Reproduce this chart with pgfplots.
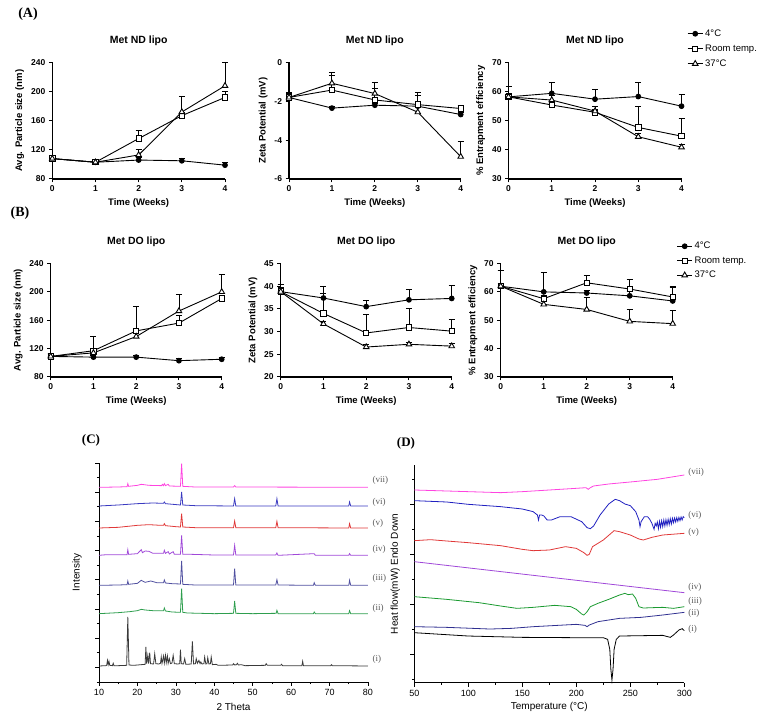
\documentclass[border=0pt]{standalone}
\usepackage{pgfplots}
\pgfplotsset{compat=1.18}
\usepackage{fontspec}
\setmainfont{Liberation Sans}
\newfontfamily\serif{Liberation Serif}
\definecolor{cI}{HTML}{3A3A3A}
\definecolor{cII}{HTML}{2E9E4E}
\definecolor{cIII}{HTML}{5050A0}
\definecolor{cIV}{HTML}{A048D8}
\definecolor{cV}{HTML}{E03838}
\definecolor{cVI}{HTML}{3A3AC0}
\definecolor{cVII}{HTML}{FF44E0}
\definecolor{dII}{HTML}{303090}
\definecolor{dIII}{HTML}{1A9A30}
\definecolor{dVI}{HTML}{2020C0}
\tikzset{lbl/.style={font=\serif\fontsize{9bp}{10bp}\selectfont, text=black!65, anchor=west}}
\pgfplotsset{
  gp/.style={scale only axis, axis lines*=left,
    axis line style={line width=1.1bp, -},
    tick align=outside, tick style={line width=1bp, black}, major tick length=3.5bp,
    xmin=0, xmax=4, xtick={0,1,2,3,4}, clip=false,
    /pgf/number format/assume math mode=true,
    ticklabel style={font=\fontsize{8.5bp}{10bp}\selectfont\bfseries},
    label style={font=\fontsize{9.5bp}{11bp}\selectfont\bfseries},
    title style={font=\fontsize{10.5bp}{12bp}\selectfont\bfseries, yshift=7bp},
    xlabel={Time (Weeks)},
    legend image code/.code={\draw[mark repeat=2,mark phase=2] plot coordinates {(0bp,0bp) (7.5bp,0bp) (15bp,0bp)};}},
  c4/.style={black, line width=0.9bp, mark=*, mark size=2.4bp, mark options={solid, fill=black},
    /pgfplots/error bars/y dir=plus, /pgfplots/error bars/y explicit,
    /pgfplots/error bars/error bar style={line width=0.9bp, black},
    /pgfplots/error bars/error mark options={line width=0.9bp, black, mark size=3bp, rotate=90}},
  rt/.style={black, line width=0.9bp, mark=square*, mark size=2.7bp, mark options={solid, fill=white},
    /pgfplots/error bars/y dir=plus, /pgfplots/error bars/y explicit,
    /pgfplots/error bars/error bar style={line width=0.9bp, black},
    /pgfplots/error bars/error mark options={line width=0.9bp, black, mark size=3bp, rotate=90}},
  t37/.style={black, line width=0.9bp, mark=triangle*, mark size=3.2bp, mark options={solid, fill=white},
    /pgfplots/error bars/y dir=plus, /pgfplots/error bars/y explicit,
    /pgfplots/error bars/error bar style={line width=0.9bp, black},
    /pgfplots/error bars/error mark options={line width=0.9bp, black, mark size=3bp, rotate=90}},
  spec/.style={scale only axis, axis lines*=left, axis line style={line width=0.8bp, -},
    tick align=outside, tick style={line width=0.7bp, black}, major tick length=4bp, minor tick length=2.2bp,
    clip=false, /pgf/number format/assume math mode=true, yticklabels={},
    ticklabel style={font=\fontsize{9bp}{10bp}\selectfont},
    label style={font=\fontsize{10bp}{12bp}\selectfont}},
  sp/.style={line width=0.8bp, no marks},
}
\begin{document}
\begin{tikzpicture}[x=1bp,y=1bp]
\useasboundingbox (0,0) rectangle (772,720);
\node[font=\serif\bfseries\fontsize{14bp}{16bp}\selectfont] at (28,706) {(A)};
\node[font=\serif\bfseries\fontsize{14bp}{16bp}\selectfont] at (20,507) {(B)};
\node[font=\serif\bfseries\fontsize{13bp}{15bp}\selectfont] at (91,280) {(C)};
\node[font=\serif\bfseries\fontsize{13bp}{15bp}\selectfont] at (406,277) {(D)};

% ---------- A1
\begin{axis}[gp, at={(52.3bp,541bp)}, width=172.7bp, height=116.5bp, ymin=80, ymax=240, ytick={80,120,160,200,240},
  title={Met ND lipo}, ylabel={Avg. Particle size (nm)}]
\addplot[c4] coordinates {(0,108) +- (0,3) (1,103) +- (0,2) (2,106) +- (0,3) (3,105) +- (0,3) (4,99) +- (0,4)};
\addplot[rt] coordinates {(0,108) +- (0,3) (1,103) +- (0,2) (2,135.5) +- (0,11.5) (3,167) +- (0,5) (4,192) +- (0,8)};
\addplot[t37] coordinates {(0,108) +- (0,2) (1,103) +- (0,2) (2,113) +- (0,8) (3,172) +- (0,21) (4,208) +- (0,32)};
\end{axis}
% ---------- A2
\begin{axis}[gp, at={(289bp,541bp)}, width=171.7bp, height=116.5bp, ymin=-6, ymax=0, ytick={-6,-4,-2,0},
  title={Met ND lipo}, ylabel={Zeta Potential (mV)}]
\addplot[c4] coordinates {(0,-1.8) +- (0,0.25) (1,-2.35) +- (0,0.1) (2,-2.2) +- (0,0.1) (3,-2.25) +- (0,0.15) (4,-2.68) +- (0,0.1)};
\addplot[rt] coordinates {(0,-1.8) +- (0,0.2) (1,-1.42) +- (0,0.75) (2,-1.93) +- (0,0.6) (3,-2.17) +- (0,0.45) (4,-2.37) +- (0,0.15)};
\addplot[t37] coordinates {(0,-1.8) +- (0,0.2) (1,-1.07) +- (0,0.55) (2,-1.6) +- (0,0.55) (3,-2.56) +- (0,1.0) (4,-4.85) +- (0,0.8)};
\end{axis}
% ---------- A3
\begin{axis}[gp, at={(508.5bp,541bp)}, width=173bp, height=116.5bp, ymin=30, ymax=70, ytick={30,40,50,60,70},
  title={Met ND lipo}, ylabel={\% Entrapment efficiency},
  legend style={at={(1.015,1.33)}, anchor=north west, draw=none, fill=none,
    font=\fontsize{9.5bp}{11bp}\selectfont, nodes={minimum height=15bp, inner ysep=0bp}}, legend cell align=left]
\addplot[c4] coordinates {(0,58.2) +- (0,3.6) (1,59.4) +- (0,3.7) (2,57.4) +- (0,3.4) (3,58.3) +- (0,4.7) (4,55.0) +- (0,4)};
\addplot[rt] coordinates {(0,58.2) +- (0,1) (1,55.4) +- (0,1) (2,52.9) +- (0,1) (3,47.7) +- (0,7.3) (4,44.7) +- (0,6)};
\addplot[t37] coordinates {(0,58.2) +- (0,1) (1,57.1) +- (0,1.5) (2,53.3) +- (0,1.5) (3,44.5) +- (0,1) (4,40.9) +- (0,1)};
\legend{4°C, Room temp., 37°C}
\end{axis}
% ---------- B1
\begin{axis}[gp, at={(50.7bp,343bp)}, width=171bp, height=113.5bp, ymin=80, ymax=240, ytick={80,120,160,200,240},
  title={Met DO lipo}, ylabel={Avg. Particle size (nm)}]
\addplot[c4] coordinates {(0,109) +- (0,4) (1,108) +- (0,3) (2,108) +- (0,3) (3,103) +- (0,3) (4,105) +- (0,2)};
\addplot[rt] coordinates {(0,109) +- (0,4) (1,117) +- (0,20) (2,145) +- (0,34) (3,156) +- (0,11) (4,190.6) +- (0,5)};
\addplot[t37] coordinates {(0,109) +- (0,3) (1,114) +- (0,6) (2,137) +- (0,5) (3,173) +- (0,24) (4,200) +- (0,24.5)};
\end{axis}
% ---------- B2
\begin{axis}[gp, at={(280.7bp,343bp)}, width=171bp, height=113.5bp, ymin=20, ymax=45, ytick={20,25,30,35,40,45},
  title={Met DO lipo}, ylabel={Zeta Potential (mV)}]
\addplot[c4] coordinates {(0,38.8) +- (0,1.6) (1,37.4) +- (0,2.6) (2,35.5) +- (0,1.3) (3,37.0) +- (0,2.3) (4,37.3) +- (0,2.9)};
\addplot[rt] coordinates {(0,38.8) +- (0,1.6) (1,34.0) +- (0,4.3) (2,29.7) +- (0,4.1) (3,30.9) +- (0,4.3) (4,30.1) +- (0,2.6)};
\addplot[t37] coordinates {(0,38.8) +- (0,1) (1,31.7) +- (0,0.5) (2,26.6) +- (0,0.5) (3,27.2) +- (0,0.5) (4,26.8) +- (0,0.5)};
\end{axis}
% ---------- B3
\begin{axis}[gp, at={(500.7bp,343bp)}, width=172bp, height=113.5bp, ymin=30, ymax=70, ytick={30,40,50,60,70},
  title={Met DO lipo}, ylabel={\% Entrapment efficiency},
  legend style={at={(1.005,1.235)}, anchor=north west, draw=none, fill=none,
    font=\fontsize{9.5bp}{11bp}\selectfont, nodes={minimum height=14.5bp, inner ysep=0bp}}, legend cell align=left]
\addplot[c4] coordinates {(0,62) +- (0,5.5) (1,60) +- (0,6.7) (2,59.6) +- (0,1) (3,58.6) +- (0,1.5) (4,56.8) +- (0,5)};
\addplot[rt] coordinates {(0,62) +- (0,5.5) (1,57.6) +- (0,1) (2,63.2) +- (0,2.7) (3,61) +- (0,3.4) (4,58.2) +- (0,3.5)};
\addplot[t37] coordinates {(0,62) +- (0,1) (1,55.6) +- (0,1) (2,53.8) +- (0,4.4) (3,49.6) +- (0,4.2) (4,48.8) +- (0,4.7)};
\legend{4°C, Room temp., 37°C}
\end{axis}

% ---------- C  XRD
\begin{axis}[spec, at={(99bp,38bp)}, width=269bp, height=219bp, xmin=10, xmax=80, ymin=0, ymax=657,
  xtick={10,20,...,80}, minor x tick num=1,
  ytick={44,132,219,307,395,482,570,657}, minor ytick={0,88,176,263,351,438,526,613},
  xlabel={2 Theta}, ylabel={Intensity},
  xlabel style={at={(axis description cs:0.5,-0.115)}, anchor=center},
  ylabel style={at={(axis description cs:-0.082,0.5)}, anchor=center}]
\addplot[sp, cI] coordinates {(10,48)(11.8,49)(12.0,50)(12.2,65)(12.4,52)(12.6,62)(12.8,50)(13.5,49)(13.7,56)(13.9,49)(15,49)(17.2,50)(17.5,195)(17.8,51)(19,50)(20,51)(21,52)(22,53)(22.2,105)(22.4,55)(22.7,80)(22.9,55)(23.2,88)(23.4,55)(24.2,54)(24.5,85)(24.8,55)(25.5,54)(26.0,56)(26.2,75)(26.4,56)(26.8,78)(27.0,57)(27.3,80)(27.5,58)(27.8,78)(28.0,56)(28.3,70)(28.6,55)(29.0,57)(29.3,80)(29.6,55)(30.5,54)(31.0,55)(31.2,97)(31.4,55)(32.0,54)(32.3,70)(32.6,53)(34.0,54)(34.3,122)(34.6,54)(35.1,55)(35.3,70)(35.6,56)(36.0,65)(36.3,55)(36.5,60)(36.8,54)(37.3,55)(37.5,75)(37.8,54)(38.1,55)(38.3,73)(38.6,54)(39.0,55)(39.2,75)(39.5,52)(40.5,53)(41,50)(44.8,51)(45,55)(45.3,51)(45.8,52)(46,56)(46.3,51)(47,52)(48,49)(53.3,50)(53.5,55)(53.8,50)(57.3,50)(57.5,53)(57.8,49)(62.8,49)(63,62)(63.2,49)(70.3,49)(70.5,52)(70.7,49)(80,48)};
\addplot[sp, cII] coordinates {(10,205)(15,208)(18,211)(20,214)(21,218)(22,216)(24,214)(26.8,214)(27,222)(27.3,213)(29,210)(31.2,209)(31.5,280)(31.8,209)(33,207)(40,205)(45,206)(45.3,243)(45.6,206)(50,205)(56.1,206)(56.3,215)(56.6,205)(65.8,205)(66,210)(66.3,205)(75,205)(75.2,214)(75.5,205)(80,205)};
\addplot[sp, cIII] coordinates {(10,290)(15,291)(17.3,292)(17.5,303)(17.7,293)(20,296)(21,305)(22,299)(23.5,303)(25,298)(26.8,298)(27,306)(27.3,297)(29,295)(31.2,294)(31.5,363)(31.8,293)(35,291)(45,291)(45.3,340)(45.6,291)(56,291)(56.3,307)(56.6,291)(65.8,290)(66,298)(66.3,290)(75,290)(75.2,305)(75.5,290)(80,290)};
\addplot[sp, cIV] coordinates {(10,380)(12,382)(17.3,382)(17.5,397)(17.7,383)(20,385)(21,397)(21.3,388)(22,393)(23,392)(24,386)(26.8,386)(27,395)(27.3,386)(28,391)(28.3,384)(29.3,391)(29.6,383)(31.2,383)(31.5,440)(31.8,383)(34,383)(40,381)(45,381)(45.3,410)(45.6,381)(56,381)(56.3,387)(56.6,380)(66,385)(66.3,380)(75,380)(75.2,385)(75.5,380)(80,380)};
\addplot[sp, cV] coordinates {(10,462)(15,464)(20,470)(23,472)(26,470)(26.8,470)(27,475)(27.3,469)(30,466)(31.2,465)(31.5,505)(31.8,465)(35,463)(45,463)(45.3,483)(45.6,463)(56,463)(56.3,482)(56.6,463)(75,462)(75.2,475)(75.5,462)(80,462)};
\addplot[sp, cVI] coordinates {(10,528)(15,531)(20,535)(24,537)(26.8,536)(27,540)(27.3,535)(31.2,531)(31.5,570)(31.8,531)(35,529)(45,528)(45.3,550)(45.6,528)(56,528)(56.3,550)(56.6,528)(75,528)(75.2,540)(75.5,528)(80,528)};
\addplot[sp, cVII] coordinates {(10,584)(15,585)(17.3,586)(17.5,595)(17.7,587)(20,590)(21,593)(23,590)(26.3,589)(26.5,593)(26.8,589)(27,595)(27.3,589)(28,593)(28.3,588)(31.2,587)(31.5,655)(31.8,587)(35,585)(45,585)(45.3,589)(45.6,585)(80,584)};
\node[lbl] at (axis cs:80.3,605) {(vii)};
\node[lbl] at (axis cs:80.3,540) {(vi)};
\node[lbl] at (axis cs:80.3,477) {(v)};
\node[lbl] at (axis cs:80.3,398) {(iv)};
\node[lbl] at (axis cs:80.3,310) {(iii)};
\node[lbl] at (axis cs:80.3,220) {(ii)};
\node[lbl] at (axis cs:80.3,67) {(i)};
\end{axis}

% ---------- D  DSC
\begin{axis}[spec, at={(414.3bp,37.3bp)}, width=270bp, height=217.7bp, xmin=50, xmax=300, ymin=0, ymax=653,
  xtick={50,100,...,300}, minor x tick num=1,
  ytick={86,236,386,536}, minor ytick={11,161,311,461,611},
  xlabel={Temperature (°C)}, ylabel={Heat flow(mW) Endo Down},
  xlabel style={at={(axis description cs:0.5,-0.11)}, anchor=center},
  ylabel style={at={(axis description cs:-0.07,0.5)}, anchor=center}]
\addplot[sp, cVII] coordinates {(50,578)(100,573)(130,570)(150,573)(200,583)(209,585)(211,580)(213,585)(216,590)(230,596)(250,602)(275,610)(300,623)};
\addplot[sp, dVI] coordinates {(50,546)(80,542)(100,535)(130,528)(150,521)(160,513)(164,503)(165,488)(166,503)(168,503)(170,500)(173,488)(177,488)(185,498)(195,498)(205,483)(210,465)(213,462)(216,470)(222,503)(230,536)(236,550)(240,546)(245,536)(250,531)(255,513)(258,488)(259,468)(260,483)(263,498)(266,498)(268,490)(270,478)(272,460)(273,478)(274,470)(275,482)(276,462)(277,484)(278,466)(279,486)(280,468)(281,488)(282,470)(283,489)(284,472)(285,490)(286,474)(287,492)(288,476)(289,493)(290,480)(291,494)(292,482)(293,495)(294,484)(295,496)(296,486)(297,497)(298,488)(299,498)(300,495)};
\addplot[sp, cV] coordinates {(50,426)(65,429)(80,425)(100,420)(130,411)(150,400)(160,396)(175,398)(190,408)(200,403)(207,390)(210,382)(212,385)(215,408)(225,428)(235,456)(240,453)(250,443)(258,431)(262,428)(270,436)(280,443)(300,448)};
\addplot[sp, cIV] coordinates {(50,363)(300,270)};
\addplot[sp, dIII] coordinates {(50,258)(80,250)(110,240)(130,230)(145,223)(160,226)(180,232)(195,228)(200,220)(205,206)(207,203)(210,213)(213,228)(220,238)(230,250)(240,263)(245,268)(248,264)(252,266)(255,253)(258,228)(262,224)(270,225)(280,226)(290,223)(300,228)};
\addplot[sp, dII] coordinates {(50,168)(80,166)(120,161)(140,163)(160,168)(200,175)(208,172)(210,168)(212,173)(220,183)(240,193)(260,196)(280,203)(300,211)};
\addplot[sp, black] coordinates {(50,150)(100,140)(150,136)(200,135)(225,135)(229,130)(231,100)(232,40)(233,8)(234,40)(235,100)(237,130)(240,140)(260,141)(280,142)(287,136)(290,143)(295,158)(298,162)(300,156)};
\node[lbl] at (axis cs:300.5,630) {(vii)};
\node[lbl] at (axis cs:300.5,503) {(vi)};
\node[lbl] at (axis cs:300.5,450) {(v)};
\node[lbl] at (axis cs:300.5,285) {(iv)};
\node[lbl] at (axis cs:300.5,243) {(iii)};
\node[lbl] at (axis cs:300.5,208) {(ii)};
\node[lbl] at (axis cs:300.5,160) {(i)};
\end{axis}
\end{tikzpicture}
\end{document}
